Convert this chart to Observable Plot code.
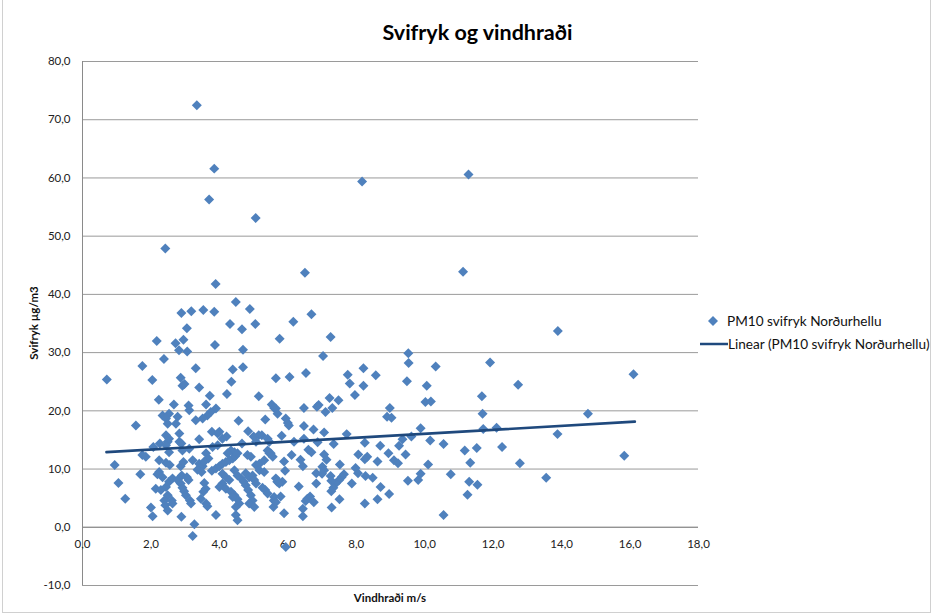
<!DOCTYPE html>
<html>
<head>
<meta charset="utf-8">
<script src="https://cdn.jsdelivr.net/npm/d3@7"></script>
<script src="https://cdn.jsdelivr.net/npm/@observablehq/plot@0.6"></script>
<style>
  html, body { margin: 0; padding: 0; background: #fff; }
  #wrap { position: relative; width: 933px; height: 615px; font-family: Lato, "Open Sans", sans-serif; overflow: hidden; }
  #frame { position: absolute; left: 2px; top: -2px; width: 929px; height: 615px; border: 1px solid #d0d0d0; box-sizing: border-box; pointer-events: none; }
  #chart { position: absolute; left: 0; top: 0; }
  .title { position: absolute; left: 0; width: 955px; top: 19px; text-align: center; font-weight: bold; font-size: 21.5px; color: #000; }
  .ylab { position: absolute; left: 33px; top: 323px; transform: translate(-50%, -50%) rotate(-90deg); font-weight: bold; font-size: 11.5px; white-space: nowrap; color: #111; }
  .xlab { position: absolute; left: 390px; top: 597px; transform: translate(-50%, -50%); font-weight: bold; font-size: 11.5px; white-space: nowrap; color: #111; }
  .leg { position: absolute; left: 700px; font-size: 13.6px; color: #111; white-space: nowrap; display: flex; align-items: center; }
  .leg svg { display: block; margin-right: 0px; }
</style>
</head>
<body>
<div id="wrap">
  <div id="chart"></div>
  <div class="title">Svifryk og vindhraði</div>
  <div class="ylab">Svifryk µg/m3</div>
  <div class="xlab">Vindhraði m/s</div>
  <div class="leg" style="top:311px"><svg width="27" height="20"><path d="M13,5 L18,10 L13,15 L8,10 Z" fill="#4f81bd"/></svg>PM10 svifryk Norðurhellu</div>
  <div class="leg" style="top:334px"><svg width="28" height="20"><line x1="0" y1="10" x2="28" y2="10" stroke="#1f497d" stroke-width="2.5"/></svg>Linear (PM10 svifryk Norðurhellu)</div>
  <div id="frame"></div>
</div>
<script>
// Wind speed (m/s) and PM10 (µg/m3)
const windSpeed = [
  3.34,3.85,8.17,11.28,3.7,5.06,2.42,6.5,11.12,3.89,13.89,16.1,11.91,12.73,11.67,
  4.48,2.89,3.18,3.53,3.85,4.89,4.31,3.05,4.66,5.05,2.17,2.72,2.95,2.82,3.06,3.87,4.69,5.76,
  2.38,1.75,3.31,4.39,4.69,0.71,2.04,2.87,2.92,2.98,3.41,4.35,5.65,
  4.22,3.72,5.15,2.23,2.67,3.1,3.61,3.9,5.53,5.6,
  6.69,6.16,7.25,7.03,9.52,9.53,10.32,6.05,6.53,7.75,8.21,8.57,7.81,8.21,9.48,10.06,
  7.96,7.22,7.48,10.02,10.18,6.47,6.9,6.85,7.3,8.98,
  11.69,14.77,11.71,12.1,13.88,11.17,11.52,12.26,15.83,11.33,12.78,13.55,11.3,11.54,11.25,
  7.1,8.9,9.03,5.65,5.94,6.0,6.03,6.47,6.75,7.06,7.72,5.82,6.18,6.47,6.87,7.34,8.25,8.7,9.25,
  9.35,9.61,9.88,10.16,10.55,5.5,6.11,6.6,6.69,7.06,7.13,8.06,8.32,8.25,8.94,9.1,9.22,9.44,
  8.62,5.89,6.37,6.44,10.1,5.92,7.01,7.06,7.0,7.52,7.98,8.05,8.27,8.48,7.64,7.57,7.5,7.4,
  7.33,7.27,7.25,7.27,6.83,6.83,6.32,5.69,5.84,7.87,8.71,9.51,9.81,9.88,10.76,8.96,8.62,
  8.25,7.51,7.28,6.65,6.57,6.52,6.76,6.44,6.44,5.89,5.59,5.58,5.79,10.55,5.94,
  3.12,3.75,3.65,3.51,3.31,2.34,2.53,2.44,2.49,2.78,2.73,1.56,4.56,5.34,5.7,
  3.78,3.95,4.0,4.84,5.15,5.24,5.41,5.46,2.44,2.53,2.49,2.83,2.83,3.41,4.21,4.66,5.0,5.07,
  2.07,2.26,2.53,1.75,1.85,0.94,1.05,1.25,1.69,2.0,2.05,2.44,2.24,2.19,2.34,2.53,2.63,2.78,
  2.14,2.29,2.44,2.49,2.61,2.63,2.39,2.42,2.49,2.87,2.95,2.9,2.87,2.92,2.97,3.02,3.22,2.89,
  3.05,3.1,3.14,3.17,2.89,3.27,3.22,3.41,3.51,3.36,3.48,3.56,3.6,3.53,3.46,3.61,3.65,3.9,
  3.61,3.68,3.56,3.78,3.9,4.0,4.09,4.19,4.29,4.39,4.46,4.53,4.44,4.34,4.24,4.09,4.19,4.29,
  4.09,4.0,4.44,4.53,4.63,4.71,4.77,4.19,4.34,4.44,4.53,4.58,4.48,4.39,4.48,4.53,4.84,4.92,
  4.97,4.87,5.02,4.77,4.87,4.97,5.02,5.07,4.82,4.92,5.07,5.17,5.31,5.41,5.46,5.56,5.26,5.34,
  5.41,5.6,5.65,5.17,5.31,5.65,5.75,2.92,3.12,2.44,2.55,2.24,3.8,3.95,4.09
];
const pm10 = [
  72.5,61.6,59.4,60.6,56.3,53.1,47.9,43.7,43.9,41.8,33.7,26.3,28.3,24.5,22.5,
  38.7,36.8,37.1,37.3,37.0,37.5,34.9,34.2,34.0,34.9,32.0,31.6,32.2,30.4,30.2,31.3,30.5,32.4,
  28.9,27.7,27.3,27.1,27.5,25.4,25.3,25.7,24.3,24.6,24.0,25.0,25.6,
  22.9,22.6,22.5,21.9,21.1,20.9,21.1,20.4,21.1,20.5,
  36.6,35.3,32.7,29.4,29.9,28.2,27.6,25.8,26.5,26.2,27.3,26.1,24.7,24.3,25.1,24.3,
  22.7,22.2,21.8,21.5,21.6,20.5,21.0,20.7,20.5,20.5,
  19.5,19.5,16.9,17.1,16.0,13.2,13.6,13.8,12.3,11.1,11.0,8.5,7.8,7.3,5.6,
  19.8,19.0,18.8,20.4,18.7,17.9,17.5,17.4,16.8,16.3,16.0,15.7,14.7,15.2,14.6,14.3,14.5,14.0,14.0,
  15.1,15.6,17.0,14.9,14.3,12.7,12.4,13.3,12.9,12.5,11.6,12.5,12.1,11.7,12.7,11.5,11.0,12.5,
  11.3,11.3,11.6,10.5,10.8,9.7,10.4,9.8,9.2,10.8,10.2,9.3,8.8,8.5,9.1,8.6,8.1,7.5,
  6.8,6.2,8.8,8.0,9.3,7.5,7.0,7.8,7.8,7.5,6.9,8.0,8.1,9.2,9.1,5.7,4.8,
  4.1,4.8,3.4,5.3,4.9,4.5,4.3,3.2,1.9,2.4,4.6,3.5,5.3,2.1,-3.4,
  20.1,19.8,19.2,18.7,18.4,19.2,19.5,18.7,17.8,19.0,17.8,17.5,18.3,18.5,19.5,
  16.4,16.1,16.4,16.5,15.8,15.8,15.2,14.7,15.8,15.2,14.7,16.1,14.7,15.1,15.6,14.4,15.6,14.7,
  13.8,14.4,12.9,12.4,12.1,10.7,7.6,4.9,9.1,3.4,1.9,11.1,9.5,9.1,8.6,7.8,8.4,8.1,
  6.6,6.4,6.9,5.5,4.6,4.1,4.6,3.8,2.9,10.5,11.2,8.9,7.5,6.8,6.2,5.5,11.5,14.4,
  8.6,8.1,4.6,4.1,1.8,0.5,-1.5,10.9,10.5,9.9,9.5,7.6,6.6,6.1,4.9,4.1,3.6,2.1,
  12.7,11.8,11.3,9.7,10.1,10.5,10.9,11.2,11.5,11.8,12.2,12.7,12.9,13.2,12.7,9.2,8.6,8.1,
  7.5,6.9,9.8,8.9,8.4,7.8,7.2,6.6,6.1,5.5,4.8,4.1,3.5,5.2,2.1,1.2,6.4,5.5,
  4.6,4.1,3.5,9.3,8.6,8.9,8.1,7.5,12.4,12.1,10.7,10.9,11.5,13.2,12.7,12.1,6.8,6.4,
  5.8,5.2,4.3,9.8,9.5,8.4,7.5,13.2,13.5,14.1,10.7,11.5,13.8,14.1,15.2
];
// Linear trend line end points
const trendX = [0.7, 16.14];
const trendY = [12.9, 18.15];
// Axis ticks
const xTicks = [0, 2, 4, 6, 8, 10, 12, 14, 16, 18];
const yTicks = [-10, 0, 10, 20, 30, 40, 50, 60, 70, 80];

const points = windSpeed.map((x, i) => ({x, y: pm10[i]}));
const trend = trendX.map((x, i) => ({x, y: trendY[i]}));
const fmt = d => d.toFixed(1).replace(".", ",");

const chart = Plot.plot({
  width: 933,
  height: 615,
  marginLeft: 82,
  marginRight: 235,
  marginTop: 61,
  marginBottom: 30,
  style: {fontFamily: "Lato, 'Open Sans', sans-serif", fontSize: "11.5px", color: "#222", background: "transparent"},
  x: {domain: [0, 18], axis: null},
  y: {domain: [-10, 80], axis: null},
  marks: [
    Plot.ruleY(yTicks, {y: d => d, stroke: "#9a9a9a", strokeWidth: 1}),
    Plot.ruleX([0], {x: d => d, stroke: "#8a8a8a"}),
    Plot.ruleY([0], {y: d => d, stroke: "#8a8a8a"}),
    Plot.text(xTicks, {x: d => d, y: () => 0, text: fmt, dy: 17, fill: "#222"}),
    Plot.axisY({ticks: yTicks, tickFormat: fmt, tickSize: 0, tickPadding: 12, fill: "#222", label: null}),
    Plot.dot(points, {x: "x", y: "y", symbol: "diamond2", r: 4.5, fill: "#4f81bd", stroke: "none"}),
    Plot.line(trend, {x: "x", y: "y", stroke: "#1f497d", strokeWidth: 2.6})
  ]
});
document.getElementById("chart").appendChild(chart);
</script>
</body>
</html>
